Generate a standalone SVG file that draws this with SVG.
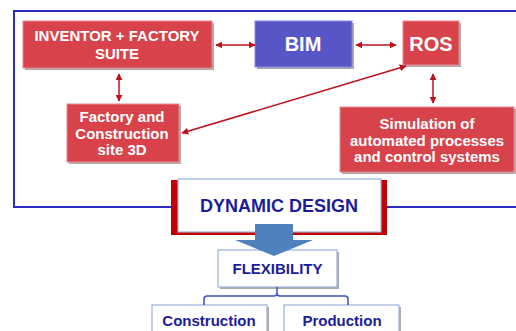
<svg xmlns="http://www.w3.org/2000/svg" width="516" height="331" viewBox="0 0 516 331">
<defs>
<marker id="ah" viewBox="0 0 10 10" refX="9" refY="5" markerWidth="7" markerHeight="7" orient="auto-start-reverse" markerUnits="userSpaceOnUse">
<path d="M0,0 L10,5 L0,10 z" fill="#c0101a"/>
</marker>
<style>
.red{fill:#d8424a;stroke:#e88a8e;stroke-width:1}
.blu{fill:#5856c6;stroke:#8886dc;stroke-width:1}
.sh{fill:#8a8a8a;opacity:0.7}
.wt{font-family:"Liberation Sans",Arial,sans-serif;font-weight:bold;fill:#ffffff;text-anchor:middle}
.dk{font-family:"Liberation Sans",Arial,sans-serif;font-weight:bold;fill:#1c1c9a;text-anchor:middle}
.wb{fill:#ffffff;stroke:#9bb0de;stroke-width:1.2}
.con{stroke:#c0101a;stroke-width:1.5;fill:none}
</style>
</defs>
<rect width="516" height="331" fill="#ffffff"/>
<path d="M171,207 H14 V11 H518" fill="none" stroke="#2c2cc0" stroke-width="2"/>
<path d="M387,207 H518" fill="none" stroke="#2c2cc0" stroke-width="2"/>

<g id="inventor">
<rect class="sh" x="25" y="23" width="189" height="47"/>
<rect class="red" x="23" y="21" width="189" height="47"/>
<text class="wt" x="117" y="41" font-size="15">INVENTOR + FACTORY</text>
<text class="wt" x="117" y="58.5" font-size="15">SUITE</text>
</g>
<g id="bim">
<rect class="sh" x="257" y="23" width="97" height="46"/>
<rect class="blu" x="255" y="21" width="97" height="46"/>
<text class="wt" x="303" y="51" font-size="20">BIM</text>
</g>
<g id="ros">
<rect class="sh" x="405" y="23" width="56" height="44"/>
<rect class="red" x="403" y="21" width="56" height="44"/>
<text class="wt" x="431" y="51" font-size="20">ROS</text>
</g>
<g id="factory">
<rect class="sh" x="69" y="106" width="112" height="58"/>
<rect class="red" x="67" y="104" width="112" height="58"/>
<text class="wt" x="122" y="121.5" font-size="15">Factory and</text>
<text class="wt" x="122" y="138.5" font-size="15">Construction</text>
<text class="wt" x="122" y="155" font-size="15">site 3D</text>
</g>
<g id="simulation">
<rect class="sh" x="342" y="109" width="174" height="65"/>
<rect class="red" x="340" y="107" width="174" height="65"/>
<text class="wt" x="427" y="129" font-size="15">Simulation of</text>
<text class="wt" x="427" y="145.5" font-size="15">automated processes</text>
<text class="wt" x="427" y="162" font-size="15">and control systems</text>
</g>
<g id="dynamic">
<rect x="171" y="180" width="216" height="55" fill="#c00000"/>
<rect class="wb" x="178" y="179" width="203" height="53"/>
<text class="dk" x="279" y="211.5" font-size="18">DYNAMIC DESIGN</text>
</g>
<g id="flexibility">
<rect class="sh" x="220" y="252" width="119" height="37"/>
<rect class="wb" x="218" y="250" width="119" height="37"/>
<text class="dk" x="277.5" y="273.5" font-size="15">FLEXIBILITY</text>
</g>
<g id="construction">
<rect class="sh" x="154" y="307" width="115" height="30"/>
<rect class="wb" x="152" y="305" width="115" height="30"/>
<text class="dk" x="209" y="326" font-size="15">Construction</text>
</g>
<g id="production">
<rect class="sh" x="286" y="307" width="115" height="30"/>
<rect class="wb" x="284" y="305" width="115" height="30"/>
<text class="dk" x="342" y="326" font-size="15">Production</text>
</g>

<g id="connectors">
<line class="con" x1="216" y1="45" x2="255" y2="45" marker-start="url(#ah)" marker-end="url(#ah)"/>
<line class="con" x1="356" y1="45" x2="396" y2="45" marker-start="url(#ah)" marker-end="url(#ah)"/>
<line class="con" x1="119" y1="74" x2="119" y2="101" marker-start="url(#ah)" marker-end="url(#ah)"/>
<line class="con" x1="433" y1="74" x2="433" y2="103" marker-start="url(#ah)" marker-end="url(#ah)"/>
<line class="con" x1="182" y1="133" x2="406" y2="66" marker-start="url(#ah)" marker-end="url(#ah)"/>
<path d="M277,287 V293 Q277,296 274,296 H207 Q204,296 204,299 V305 M277,293 Q277,296 280,296 H345 Q348,296 348,299 V305" fill="none" stroke="#3b4fc0" stroke-width="1.5"/>
<path d="M255,224 H293 V240 H313 L274,256 L235,240 H255 Z" fill="#4f81bd"/>
</g>
</svg>
